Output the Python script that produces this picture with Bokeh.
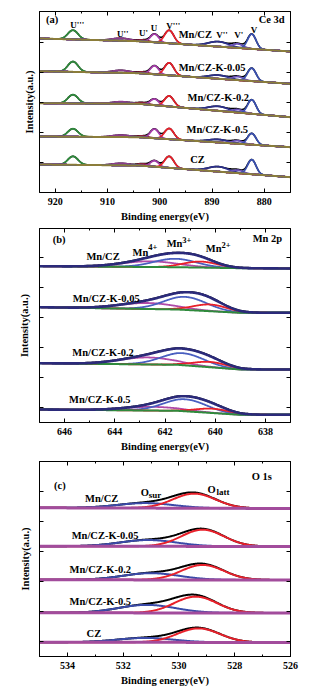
import numpy as np
from bokeh.plotting import figure
from bokeh.layouts import column
from bokeh.models import Range1d, FixedTicker, LinearAxis
from bokeh.core.properties import value
from bokeh.embed import file_html
from bokeh.resources import INLINE

FONT = "Liberation Serif"

# ---------------- Panel (a): Ce 3d ----------------
ce_samples = ["Mn/CZ", "Mn/CZ-K-0.05", "Mn/CZ-K-0.2", "Mn/CZ-K-0.5", "CZ"]
ce_peaks = ["U'''", "U''", "U'", "U", "V'''", "V''", "V'", "V"]
ce_centers = [916.6, 907.4, 903.2, 901.0, 898.2, 888.8, 885.1, 882.4]
ce_fwhm = [2.3, 4.0, 2.5, 1.9, 2.1, 4.5, 2.5, 1.9]
ce_colors = ["#2f8a3c", "#8c3c8c", "#8b1f3c", "#a43ca8", "#e8202a", "#2b2f8a", "#6a52b8", "#3a50b0"]
ce_h_mncz = [9.2, 2.5, 1.5, 8.2, 13.0, 5.0, 4.0, 14.8]
ce_h_k005 = [10.3, 2.5, 1.5, 8.5, 12.5, 3.6, 3.5, 12.9]
ce_h_k02 = [8.7, 2.0, 1.5, 6.2, 10.5, 4.5, 3.0, 14.0]
ce_h_k05 = [8.0, 2.0, 1.5, 9.2, 10.7, 3.0, 3.0, 11.2]
ce_h_cz = [8.5, 2.0, 2.0, 6.0, 11.5, 5.0, 3.0, 14.5]
ce_bg_energy = [875, 904, 923]
ce_bg_mncz = [141.0, 151.3, 154.0]
ce_bg_k005 = [108.7, 119.3, 121.3]
ce_bg_k02 = [75.3, 88.7, 89.3]
ce_bg_k05 = [45.3, 55.3, 56.0]
ce_bg_cz = [15.3, 27.0, 28.0]
ce_xticks = [920, 910, 900, 890, 880]

# ---------------- Panel (b): Mn 2p ----------------
mn_samples = ["Mn/CZ", "Mn/CZ-K-0.05", "Mn/CZ-K-0.2", "Mn/CZ-K-0.5"]
mn_peaks = ["Mn4+", "Mn3+", "Mn2+"]
mn_colors = ["#b04aa8", "#4a5fc0", "#e8202a"]
mn_fwhm = [2.6, 2.0, 1.6]
mn_c_mncz = [642.6, 641.6, 640.6]
mn_c_k005 = [642.7, 641.2, 640.2]
mn_c_k02 = [642.7, 641.3, 640.2]
mn_c_k05 = [642.5, 641.2, 640.1]
mn_h_mncz = [5.7, 8.4, 6.0]
mn_h_k005 = [6.0, 13.0, 6.7]
mn_h_k02 = [7.0, 12.0, 5.3]
mn_h_k05 = [3.7, 12.0, 4.3]
mn_bg_energy = [637, 639, 641.5, 647]
mn_bg_mncz = [154.0, 154.3, 155.3, 156.3]
mn_bg_k005 = [109.7, 109.7, 113.0, 115.3]
mn_bg_k02 = [53.0, 53.0, 57.7, 59.3]
mn_bg_k05 = [7.7, 7.7, 11.7, 13.0]
mn_xticks = [646, 644, 642, 640, 638]

# ---------------- Panel (c): O 1s ----------------
o_samples = ["Mn/CZ", "Mn/CZ-K-0.05", "Mn/CZ-K-0.2", "Mn/CZ-K-0.5", "CZ"]
o_peaks = ["Osur", "Olatt"]
o_colors = ["#3a4aa8", "#e8202a"]
o_fwhm = [2.4, 1.8]
o_c_mncz = [531.2, 529.45]
o_c_k005 = [531.1, 529.15]
o_c_k02 = [531.0, 529.15]
o_c_k05 = [531.15, 529.4]
o_c_cz = [531.2, 529.3]
o_h_mncz = [5.0, 14.6]
o_h_k005 = [6.3, 16.7]
o_h_k02 = [6.7, 15.0]
o_h_k05 = [8.0, 16.3]
o_h_cz = [4.4, 14.0]
o_bg_energy = [526, 535]
o_bg_mncz = [148.0, 148.7]
o_bg_k005 = [110.0, 110.3]
o_bg_k02 = [76.5, 76.7]
o_bg_k05 = [43.5, 43.7]
o_bg_cz = [14.0, 14.3]
o_xticks = [534, 532, 530, 528, 526]


def gauss(x, c, h, w):
    return h * np.exp(-4.0 * np.log(2.0) * (x - c) ** 2 / w ** 2)


def tick_axis(ax):
    ax.axis_line_color = "black"
    ax.major_tick_line_color = "black"
    ax.minor_tick_line_color = "black"
    ax.major_tick_in = 4
    ax.major_tick_out = 0
    ax.minor_tick_in = 2
    ax.minor_tick_out = 0
    ax.major_label_text_font = FONT
    ax.major_label_text_font_style = "bold"
    ax.major_label_text_color = "black"
    ax.major_label_text_font_size = "10px"
    ax.axis_label_text_font = FONT
    ax.axis_label_text_font_style = "bold"
    ax.axis_label_text_font_size = "10.5px"
    ax.axis_label_text_color = "black"


def style_fig(p, xticks, xminor, yticks, ylab_standoff):
    p.xgrid.visible = False
    p.ygrid.visible = False
    p.outline_line_color = "black"
    p.outline_line_width = 1
    p.background_fill_color = "white"
    p.border_fill_color = "white"
    bottom = p.below[0]
    left = p.left[0]
    bottom.ticker = FixedTicker(ticks=xticks, minor_ticks=xminor)
    left.ticker = FixedTicker(ticks=yticks, minor_ticks=[])
    tick_axis(bottom)
    tick_axis(left)
    bottom.major_label_standoff = 5
    bottom.axis_label = "Binding energy(eV)"
    bottom.axis_label_standoff = 3
    left.major_label_overrides = {t: "" for t in yticks}
    left.major_label_standoff = 0
    left.axis_label = "Intensity(a.u.)"
    left.axis_label_standoff = ylab_standoff
    top = LinearAxis(ticker=FixedTicker(ticks=xticks, minor_ticks=xminor))
    right = LinearAxis(ticker=FixedTicker(ticks=yticks, minor_ticks=[]))
    for ax, ticks in ((top, xticks), (right, yticks)):
        tick_axis(ax)
        ax.major_label_overrides = {t: "" for t in ticks}
        ax.major_label_standoff = 0
    p.add_layout(top, "above")
    p.add_layout(right, "right")


def add_text(p, xs, ys, texts, size="10.5px"):
    p.text(x=xs, y=ys, text=texts, text_font=value(FONT), text_font_style="bold",
           text_font_size=size, text_align="center", text_baseline="middle",
           text_color="black")


# ---------- build panel (a) ----------
pa = figure(width=324, height=226, x_range=Range1d(923, 875), y_range=Range1d(0, 181),
            output_backend="svg", toolbar_location=None,
            min_border_left=39, min_border_right=34, min_border_top=11, min_border_bottom=34)
style_fig(pa, ce_xticks, [915, 905, 895, 885], [30, 60, 90, 120, 150], 5)
xa = np.linspace(875, 923, 961)
ce_rows = [(ce_bg_mncz, ce_h_mncz), (ce_bg_k005, ce_h_k005), (ce_bg_k02, ce_h_k02),
           (ce_bg_k05, ce_h_k05), (ce_bg_cz, ce_h_cz)]
for bgv, hs in ce_rows:
    bg = np.interp(xa, ce_bg_energy, bgv)
    comps = [gauss(xa, c, h, w) for c, h, w in zip(ce_centers, hs, ce_fwhm)]
    pa.line(xa, bg + sum(comps), line_color="black", line_width=1.6)
    for comp, col in zip(comps, ce_colors):
        pa.line(xa, bg + comp, line_color=col, line_width=1.8)
    pa.line(xa, bg, line_color="#8b7d3a", line_width=2)
add_text(pa, [920.6], [172.7], ["(a)"], "10.5px")
add_text(pa, [878.6], [173.0], ["Ce 3d"], "10.5px")
add_text(pa, [893.2, 890.0, 888.8, 889.0, 892.8], [158.0, 125.3, 95.3, 62.7, 32.7], ce_samples, "10.5px")
add_text(pa, [915.8, 907.1, 903.1, 901.1, 897.4, 888.1, 884.9, 882.0],
         [168.0, 159.0, 159.3, 164.7, 167.0, 157.7, 157.7, 162.7], ce_peaks, "9px")

# ---------- build panel (b) ----------
pb = figure(width=324, height=228, x_range=Range1d(647, 637), y_range=Range1d(0, 194),
            output_backend="svg", toolbar_location=None,
            min_border_left=35, min_border_right=32, min_border_top=2, min_border_bottom=32)
style_fig(pb, mn_xticks, [645, 643, 641, 639], [15, 45, 75, 105, 135, 165], 10)
xb = np.linspace(637, 647, 501)
mn_rows = [(mn_bg_mncz, mn_c_mncz, mn_h_mncz), (mn_bg_k005, mn_c_k005, mn_h_k005),
           (mn_bg_k02, mn_c_k02, mn_h_k02), (mn_bg_k05, mn_c_k05, mn_h_k05)]
for bgv, cs, hs in mn_rows:
    bg = np.interp(xb, mn_bg_energy, bgv)
    comps = [gauss(xb, c, h, w) for c, h, w in zip(cs, hs, mn_fwhm)]
    env = bg + sum(comps)
    pb.line(xb, env + 0.6, line_color="black", line_width=1.3)
    for comp, col in zip(comps, mn_colors):
        pb.line(xb, bg + comp, line_color=col, line_width=1.8)
    pb.line(xb, bg, line_color="#2f8a3c", line_width=2)
    pb.line(xb, env, line_color="#2b2a7a", line_width=2.6)
add_text(pb, [646.22], [183.0], ["(b)"])
add_text(pb, [637.92], [183.7], ["Mn 2p"])
add_text(pb, [644.47, 644.34, 644.47, 644.6], [166.0, 124.3, 70.3, 22.7], mn_samples)
add_text(pb, [642.98, 641.62, 640.06], [170.3, 178.7, 173.7], ["Mn", "Mn", "Mn"])
add_text(pb, [642.49, 641.13, 639.57], [175.3, 182.7, 177.7], ["4+", "3+", "2+"], "8.5px")

# ---------- build panel (c) ----------
pc = figure(width=324, height=238, x_range=Range1d(535, 526), y_range=Range1d(0, 195),
            output_backend="svg", toolbar_location=None,
            min_border_left=34, min_border_right=31, min_border_top=7, min_border_bottom=36)
style_fig(pc, o_xticks, [535, 533, 531, 529, 527], [15, 45, 75, 105, 135, 165], 9)
xc = np.linspace(526, 535, 451)
o_rows = [(o_bg_mncz, o_c_mncz, o_h_mncz), (o_bg_k005, o_c_k005, o_h_k005),
          (o_bg_k02, o_c_k02, o_h_k02), (o_bg_k05, o_c_k05, o_h_k05),
          (o_bg_cz, o_c_cz, o_h_cz)]
for bgv, cs, hs in o_rows:
    bg = np.interp(xc, o_bg_energy, bgv)
    comps = [gauss(xc, c, h, w) for c, h, w in zip(cs, hs, o_fwhm)]
    pc.line(xc, bg + sum(comps), line_color="black", line_width=2)
    for comp, col in zip(comps, o_colors):
        pc.line(xc, bg + comp, line_color=col, line_width=2)
    pc.line(xc, bg, line_color="#a24c9c", line_width=3)
add_text(pc, [534.27], [171.0], ["(c)"])
add_text(pc, [527.03], [180.0], ["O 1s"])
add_text(pc, [532.77, 532.65, 532.82, 532.82, 533.05], [158.3, 121.0, 87.0, 55.0, 23.0], o_samples)
add_text(pc, [531.22, 528.83], [164.3, 167.0], ["O", "O"])
add_text(pc, [530.86, 528.42], [161.7, 165.0], ["sur", "latt"], "9px")

layout = column(pa, pb, pc, spacing=0)
open("out.html", "w").write(file_html(layout, INLINE))
